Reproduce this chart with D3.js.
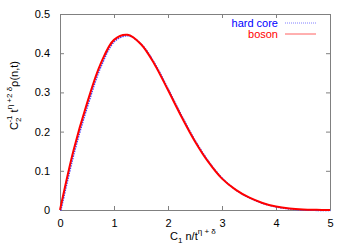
<!DOCTYPE html>
<html>
<head>
<meta charset="utf-8">
<script src="https://cdn.jsdelivr.net/npm/d3@7"></script>
<style>
  body { margin: 0; background: #fff; }
  text { font-family: "Liberation Sans", Arial, sans-serif; font-size: 11px; }
</style>
</head>
<body>
<script>
// scaled distribution
var xVals    = [0, 0.25, 0.5, 0.75, 1.0, 1.25, 1.5, 1.75, 2.0, 2.25, 2.5, 2.75, 3.0, 3.25, 3.5, 3.75, 4.0, 4.25, 4.5, 4.75, 5.0];
var boson    = [0, 0.152, 0.272, 0.372, 0.434, 0.447, 0.423, 0.372, 0.306, 0.238, 0.175, 0.122, 0.080, 0.052, 0.032, 0.018, 0.009, 0.004, 0.0015, 0.0005, 0];
var hardCore = [0, 0.148, 0.268, 0.369, 0.432, 0.446, 0.423, 0.373, 0.307, 0.239, 0.176, 0.123, 0.081, 0.052, 0.032, 0.018, 0.009, 0.004, 0.0015, 0.0005, 0];
var xTicks = [0, 1, 2, 3, 4, 5];
var yTicks = [0, 0.1, 0.2, 0.3, 0.4, 0.5];
var seriesNames = ["hard core", "boson"];

var margin = {top: 14, right: 20, bottom: 35, left: 60};
var W = 350, H = 245;
var width = W - margin.left - margin.right;
var height = H - margin.top - margin.bottom;
var frameColor = "#808080";

var svg = d3.select("body").append("svg")
    .attr("width", W)
    .attr("height", H);

var xScale = d3.scaleLinear().domain([0, 5]).range([0, width]);
var yScale = d3.scaleLinear().domain([0, 0.5]).range([height, 0]);

var g = svg.append("g")
    .attr("transform", "translate(" + margin.left + "," + margin.top + ")");

// axes with inward ticks on all four sides
function styleAxis(sel){
    sel.selectAll("path").style("stroke", frameColor).style("stroke-width", 1);
    sel.selectAll("line").style("stroke", frameColor);
    sel.selectAll("text").style("fill", "#000").style("font-size", "11px")
        .style("font-family", "'Liberation Sans', Arial, sans-serif");
}

var bottomAxis = g.append("g")
    .attr("transform", "translate(0," + height + ")")
    .call(d3.axisBottom(xScale).tickValues(xTicks).tickSizeInner(-4).tickSizeOuter(0).tickPadding(9).tickFormat(d3.format("d")));
styleAxis(bottomAxis);

var topAxis = g.append("g")
    .call(d3.axisTop(xScale).tickValues(xTicks).tickSizeInner(-4).tickSizeOuter(0).tickFormat(""));
styleAxis(topAxis);

var leftAxis = g.append("g")
    .call(d3.axisLeft(yScale).tickValues(yTicks).tickSizeInner(-4).tickSizeOuter(0).tickPadding(10)
        .tickFormat(function(d){ return d === 0 ? "0" : d3.format(".1f")(d); }));
styleAxis(leftAxis);

var rightAxis = g.append("g")
    .attr("transform", "translate(" + width + ",0)")
    .call(d3.axisRight(yScale).tickValues(yTicks).tickSizeInner(-4).tickSizeOuter(0).tickFormat(""));
styleAxis(rightAxis);

// curves
var line = d3.line()
    .x(function(d, i){ return xScale(xVals[i]); })
    .y(function(d){ return yScale(d); })
    .curve(d3.curveCatmullRom.alpha(0.5));

g.append("path")
    .datum(hardCore)
    .attr("d", line)
    .attr("fill", "none")
    .attr("stroke", "#4040ff")
    .attr("stroke-width", 1.5)
    .attr("stroke-dasharray", "1.5,1")
    .attr("transform", "translate(0.8,0.6)");

g.append("path")
    .datum(boson)
    .attr("d", line)
    .attr("fill", "none")
    .attr("stroke", "#ff0000")
    .attr("stroke-width", 2);

// legend
var legendColors = ["#0000ff", "#ff0000"];
seriesNames.forEach(function(name, i){
    var y = 27 + i * 11;
    svg.append("text")
        .attr("x", 278).attr("y", y)
        .attr("text-anchor", "end")
        .style("fill", legendColors[i])
        .text(name);
    svg.append("line")
        .attr("x1", 285).attr("x2", 316)
        .attr("y1", y - 4).attr("y2", y - 4)
        .attr("stroke", i === 0 ? "#8080ff" : "#ff6060")
        .attr("stroke-width", 1)
        .attr("stroke-dasharray", i === 0 ? "1,1" : null);
});

// x title: C1 n/t^(eta + delta)
var xt = svg.append("text")
    .attr("x", 170).attr("y", 240);
xt.append("tspan").text("C");
xt.append("tspan").attr("dy", 2.5).style("font-size", "8px").text("1");
xt.append("tspan").attr("dy", -2.5).text(" n/t");
xt.append("tspan").attr("dy", -6).style("font-size", "8px").text("η + δ");

// y title
var yt = svg.append("text")
    .attr("transform", "translate(18,130) rotate(-90)");
yt.append("tspan").text("C");
yt.append("tspan").attr("dy", 3).style("font-size", "8px").text("2");
yt.append("tspan").attr("dx", -5).attr("dy", -9).style("font-size", "8px").text("-1");
yt.append("tspan").attr("dy", 6).text(" t");
yt.append("tspan").attr("dy", -6).style("font-size", "8px").text("η +2 δ");
yt.append("tspan").attr("dy", 6).text("ρ(n,t)");
</script>
</body>
</html>
